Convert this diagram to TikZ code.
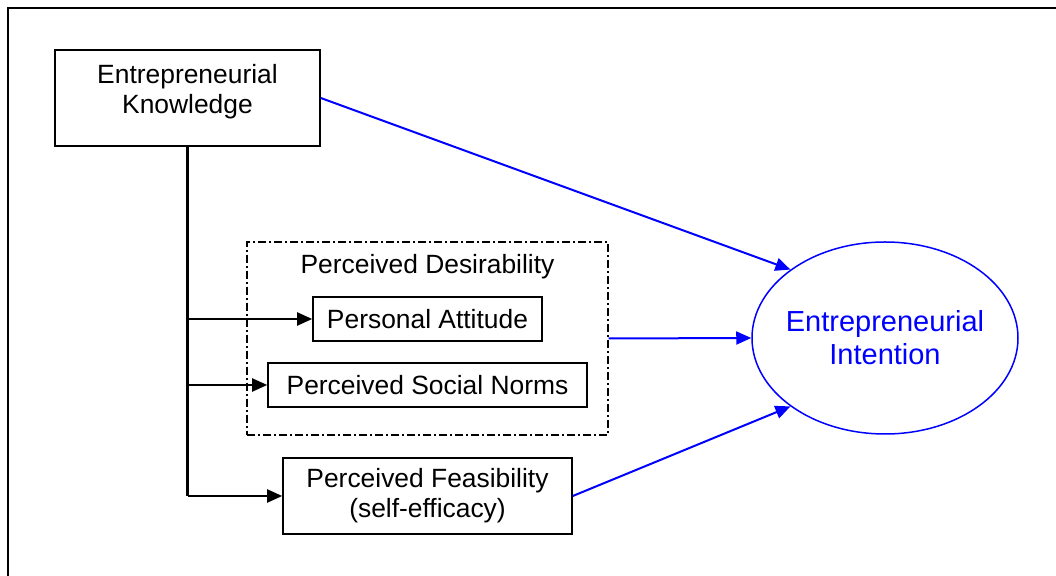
\documentclass[tikz,border=0pt]{standalone}
\usepackage{fontspec}
\setmainfont{Liberation Sans}
\usetikzlibrary{positioning, arrows.meta, shapes.geometric}

\begin{document}
\begin{tikzpicture}[x=0.5pt, y=-0.5pt, >={Triangle[length=7.5pt,width=6.5pt]},
                font=\fontsize{13.2}{15}\selectfont,
                box/.style={draw, line width=0.8pt, align=center, inner sep=0pt},
                group/.style={draw, line width=0.6pt, dash pattern=on 4pt off 1.5pt on 1pt off 1.5pt, inner sep=0pt},
                goal/.style={draw=blue, text=blue, ellipse, line width=0.75pt, inner xsep=-4pt, inner ysep=0pt,
                             align=center, font=\fontsize{14.5}{16.5}\selectfont},
                trunk/.style={line width=1.3pt},
                link/.style={->, line width=1pt},
                flow/.style={->, color=blue, line width=1pt}]

                \useasboundingbox (0,0) rectangle (1056,576);
                \draw[line width=1pt] (7.5,576) |- (1056,8);

                \node[box, minimum width=132.5pt, minimum height=48pt] (ek) at (187.5,98) {};
                \node[align=center, inner sep=0pt] (ektext) at (187.5,92) {Entrepreneurial\\Knowledge};

                \node[group, minimum width=180.5pt, minimum height=96.5pt] (pd) at (427.5,338.5) {};
                \node[inner sep=0pt] (pdtext) at (427.5,266.5) {Perceived Desirability};
                \node[box, minimum width=114.5pt, minimum height=22pt] (pa) at (427.5,319) {Personal Attitude};
                \node[box, minimum width=159.5pt, minimum height=22pt] (psn) at (427.5,385) {Perceived Social Norms};
                \node[box, minimum width=144.5pt, minimum height=38pt] (pf) at (427.5,496) {Perceived Feasibility\\(self-efficacy)};

                \node[goal, minimum width=133pt, minimum height=96pt] (ie) at (885,338) {Entrepreneurial\\Intention};

                \draw[trunk] (ek.south) -- (ek.south |- pf.west);
                \path[link]
                (ek.south |- pa.west) edge (pa.west)
                (ek.south |- psn.west) edge (psn.west)
                (ek.south |- pf.west) edge (pf.west);

                \path[flow]
                (ek.east) edge (ie.north west)
                (pd.east) edge (ie.west)
                (pf.east) edge (ie.south west);

            \end{tikzpicture}
\end{document}
